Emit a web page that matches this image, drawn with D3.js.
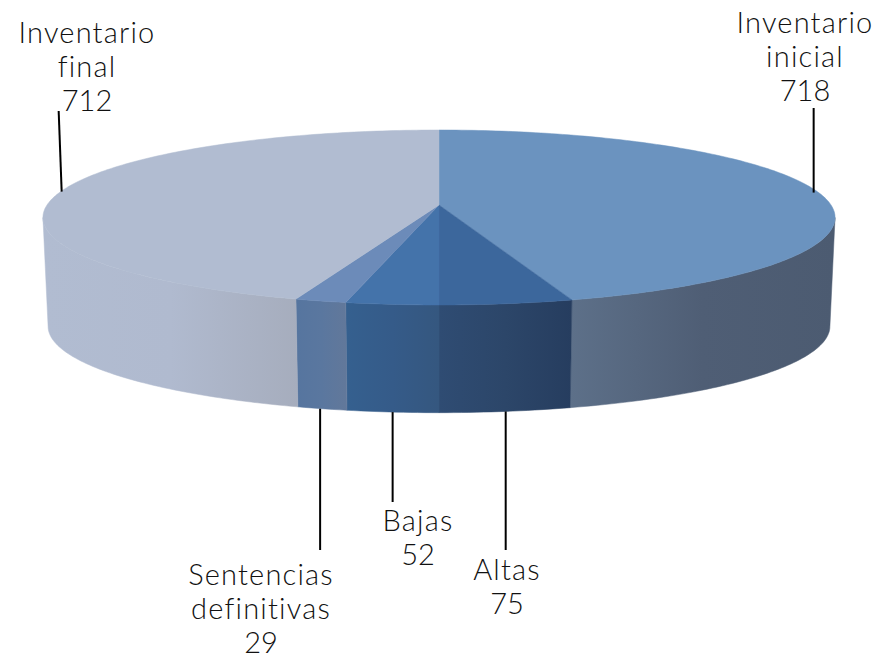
<!DOCTYPE html>
<html>
<head>
<meta charset="utf-8">
<script src="https://cdn.jsdelivr.net/npm/d3@7"></script>
<style>
    html, body { margin: 0; padding: 0; background: #fff; }
    svg { display: block; }
    text { font-family: Lato, sans-serif; font-weight: 300; font-size: 29px; fill: #111; text-anchor: middle; }
    tspan.name { letter-spacing: 1.2px; }
</style>
</head>
<body>
<div id="chart"></div>
<script>
// data
const categories = ["Inventario inicial", "Altas", "Bajas", "Sentencias definitivas", "Inventario final"];
const values = [718, 75, 52, 29, 712];
const labelLines = [["Inventario", "inicial"], ["Altas"], ["Bajas"], ["Sentencias", "definitivas"], ["Inventario", "final"]];

// colours per slice
const topColors = ["#6b93bf", "#3c679c", "#4473aa", "#6c8bb9", "#b1bcd1"];
const wallFrom = ["#5d7089", "#2f4c73", "#35608f", "#56759f", "#b1bcd1"];
const wallMid = ["#4f5e75", "#2c4669", "#355b89", "#5a779f", "#b0bacf"];
const wallTo = ["#4c5b71", "#263d5f", "#35577f", "#62789a", "#a6adbd"];

const w = 879,
    h = 656,
    cx = 439,
    cy = 205,
    rX = 392,
    rY = 85.7,
    persp = 1 / 7,
    bottomY = 314,
    bottomScale = 0.987;

// where the rim turns away from the viewer
const wallStart = Math.acos(-persp),
    wallEnd = 2 * Math.PI - wallStart;

// layout of the labels: centre x, first baseline, where the leader ends, rim side
const labelLayout = [
    {x: 805, y: 33, leaderY: 108, dx: -5, rim: "top"},
    {x: 507, y: 580, leaderY: 550, dx: 0, rim: "bottom"},
    {x: 418, y: 531, leaderY: 502, dx: 0, rim: "bottom"},
    {x: 261, y: 585, leaderY: 550, dx: -2, rim: "bottom"},
    {x: 87, y: 43, leaderY: 111, dx: 1, rim: "top"}
];
const lineHeight = 34;

function project(angle, rim) {
    const d = 1 + persp * Math.cos(angle);
    const s = rim === "bottom" ? bottomScale : 1;
    const y0 = rim === "bottom" ? bottomY : cy;
    return [cx + s * rX * Math.sin(angle) / d, y0 - s * rY * Math.cos(angle) / d];
}

function rimPoints(a0, a1, rim) {
    const n = Math.max(2, Math.ceil((a1 - a0) * 60));
    return d3.range(n + 1).map(function (i) {
        return project(a0 + (a1 - a0) * i / n, rim);
    });
}

function wallPoints(d) {
    const a0 = Math.max(d.startAngle, wallStart),
        a1 = Math.min(d.endAngle, wallEnd);
    return rimPoints(a0, a1, "top").concat(rimPoints(a0, a1, "bottom").reverse());
}

const line = d3.line();
const arcs = d3.pie().sort(null)(values);

const svg = d3.select("#chart").append("svg")
    .attr("width", w)
    .attr("height", h);

const defs = svg.append("defs");

arcs.forEach(function (d, i) {
    const ext = d3.extent(wallPoints(d), function (p) { return p[0]; });
    const grad = defs.append("linearGradient")
        .attr("id", "wall" + i)
        .attr("gradientUnits", "userSpaceOnUse")
        .attr("x1", ext[0]).attr("x2", ext[1])
        .attr("y1", 0).attr("y2", 0);
    grad.append("stop").attr("offset", 0).attr("stop-color", wallFrom[i]);
    grad.append("stop").attr("offset", 0.5).attr("stop-color", wallMid[i]);
    grad.append("stop").attr("offset", 1).attr("stop-color", wallTo[i]);
});

// walls first, only the front of the rim
svg.append("g")
    .selectAll("path")
    .data(arcs)
    .enter()
    .append("path")
    .attr("fill", function (d, i) { return "url(#wall" + i + ")"; })
    .attr("stroke", function (d, i) { return "url(#wall" + i + ")"; })
    .attr("stroke-width", 0.5)
    .attr("d", function (d) {
        return line(wallPoints(d)) + "Z";
    });

svg.append("g")
    .selectAll("path")
    .data(arcs)
    .enter()
    .append("path")
    .attr("fill", function (d, i) { return topColors[i]; })
    .attr("stroke", function (d, i) { return topColors[i]; })
    .attr("stroke-width", 0.5)
    .attr("d", function (d) {
        return line([[cx, cy]].concat(rimPoints(d.startAngle, d.endAngle, "top"))) + "Z";
    });

// leaders
svg.append("g")
    .selectAll("line")
    .data(arcs)
    .enter()
    .append("line")
    .attr("stroke", "#000")
    .attr("stroke-width", 2)
    .each(function (d, i) {
        const l = labelLayout[i];
        const p = project((d.startAngle + d.endAngle) / 2, l.rim);
        const isLeft = i === 4;
        d3.select(this)
            .attr("x1", p[0] + l.dx)
            .attr("y1", p[1])
            .attr("x2", p[0] + l.dx - (isLeft ? 3 : 0))
            .attr("y2", l.leaderY);
    });

// labels
const labels = svg.append("g")
    .selectAll("text")
    .data(categories)
    .enter()
    .append("text");

labels.each(function (c, i) {
    const l = labelLayout[i];
    const rows = labelLines[i].concat(String(values[i]));
    d3.select(this).selectAll("tspan")
        .data(rows)
        .enter()
        .append("tspan")
        .attr("class", function (r, j) { return j < rows.length - 1 ? "name" : "value"; })
        .attr("x", l.x)
        .attr("y", function (r, j) { return l.y + j * lineHeight; })
        .text(function (r) { return r; });
});
</script>
</body>
</html>
